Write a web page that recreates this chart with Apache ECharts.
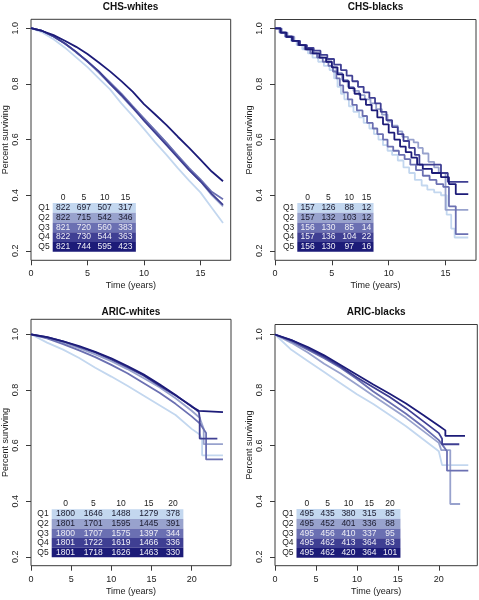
<!DOCTYPE html>
<html><head><meta charset="utf-8">
<script src="https://cdn.jsdelivr.net/npm/echarts@6/dist/echarts.min.js"></script>
<style>html,body{margin:0;padding:0;background:#fff}#c{width:479px;height:600px}</style>
</head><body><div id="c"></div>
<script>
// ---------------- data ----------------
const quintiles = ['Q1','Q2','Q3','Q4','Q5'];
const panelTitles = ['CHS-whites','CHS-blacks','ARIC-whites','ARIC-blacks'];
const chsTicks = [0,5,10,15];
const aricTicks = [0,5,10,15,20];
const yTicks = [0.2,0.4,0.6,0.8,1.0];

// CHS-whites (yearly)
const chsW_t  = [0,1,2,3,4,5,6,7,8,9,10,11,12,13,14,15,16,17];
const chsW_Q1 = [1,0.985,0.96,0.93,0.895,0.86,0.82,0.78,0.73,0.685,0.638,0.59,0.545,0.497,0.452,0.41,0.355,0.30];
const chsW_Q2 = [1,0.99,0.97,0.945,0.915,0.88,0.84,0.80,0.757,0.713,0.672,0.632,0.588,0.54,0.492,0.45,0.40,0.36];
const chsW_Q3 = [1,0.99,0.97,0.945,0.913,0.882,0.845,0.805,0.765,0.72,0.676,0.632,0.588,0.542,0.497,0.457,0.412,0.385];
const chsW_Q4 = [1,0.99,0.97,0.945,0.915,0.88,0.845,0.80,0.76,0.715,0.668,0.624,0.58,0.535,0.49,0.45,0.405,0.365];
const chsW_Q5 = [1,0.99,0.975,0.955,0.933,0.907,0.877,0.845,0.81,0.772,0.727,0.69,0.652,0.61,0.57,0.528,0.485,0.45];

// CHS-blacks (Kaplan-Meier steps)
const chsB_Q1_t = [0,0.5,0.9,1.4,1.9,2.4,2.9,3.3,3.8,4.3,4.8,5.2,5.5,5.8,6.1,6.5,6.9,7.4,7.8,8.3,8.7,9.1,9.5,9.9,10.3,10.8,11.3,11.8,12.3,12.9,13.4,14.0,14.6,15.1,15.5,15.8,17];
const chsB_Q1_s = [1,0.985,0.97,0.955,0.94,0.925,0.91,0.895,0.88,0.865,0.85,0.82,0.79,0.765,0.745,0.72,0.70,0.68,0.66,0.64,0.62,0.60,0.58,0.56,0.545,0.525,0.50,0.48,0.455,0.435,0.42,0.41,0.40,0.33,0.28,0.248,0.248];
const chsB_Q2_t = [0,0.6,1.1,1.7,2.2,2.8,3.4,4.0,4.5,5.0,5.4,5.9,6.4,6.9,7.4,7.9,8.4,8.9,9.4,9.9,10.3,10.8,11.2,11.7,12.2,12.6,13.0,13.5,14.0,14.4,15.0,17];
const chsB_Q2_s = [1,0.985,0.97,0.955,0.94,0.925,0.91,0.895,0.88,0.86,0.84,0.815,0.79,0.775,0.76,0.745,0.73,0.71,0.69,0.665,0.65,0.63,0.61,0.60,0.59,0.57,0.55,0.52,0.50,0.48,0.347,0.347];
const chsB_Q3_t = [0,0.4,0.9,1.5,2.0,2.6,3.1,3.7,4.2,4.7,5.1,5.4,5.7,6.0,6.4,6.8,7.2,7.7,8.1,8.6,9.0,9.5,9.9,10.4,10.9,11.4,11.9,12.4,13.0,13.6,14.2,14.8,15.3,15.9,17];
const chsB_Q3_s = [1,0.985,0.97,0.955,0.94,0.925,0.91,0.895,0.88,0.865,0.845,0.82,0.795,0.77,0.745,0.725,0.705,0.685,0.66,0.64,0.62,0.60,0.575,0.56,0.545,0.53,0.51,0.49,0.47,0.455,0.44,0.43,0.36,0.26,0.26];
const chsB_Q4_t = [0,0.5,1.0,1.6,2.2,2.8,3.4,4.0,4.6,5.2,5.8,6.3,6.8,7.3,7.8,8.3,8.8,9.3,9.8,10.3,10.8,11.3,11.8,12.3,12.7,14.6,15.2,17];
const chsB_Q4_s = [1,0.985,0.97,0.955,0.94,0.93,0.92,0.905,0.89,0.87,0.85,0.83,0.81,0.79,0.77,0.75,0.73,0.70,0.67,0.645,0.62,0.595,0.57,0.545,0.51,0.48,0.448,0.448];
const chsB_Q5_t = [0,0.5,1.0,1.5,2.1,2.7,3.3,3.9,4.5,5.0,5.5,6.0,6.5,7.0,7.5,8.0,8.5,9.0,9.5,10.0,10.5,11.0,11.5,12.0,12.5,13.0,13.8,14.6,15.3,15.9,17];
const chsB_Q5_s = [1,0.985,0.97,0.955,0.94,0.925,0.91,0.895,0.88,0.86,0.835,0.81,0.785,0.765,0.745,0.725,0.705,0.68,0.655,0.625,0.60,0.575,0.555,0.535,0.51,0.495,0.48,0.465,0.44,0.404,0.404];

// ARIC-whites
const aricW_Q1_t = [0,2,4,6,8,10,12,14,16,18,20,21,21.3,21.3,23.9];
const aricW_Q1_s = [1,0.97,0.945,0.915,0.88,0.848,0.815,0.78,0.745,0.71,0.66,0.64,0.62,0.565,0.565];
const aricW_Q2_t = [0,2,4,6,8,10,12,14,16,18,20,21,21.5,21.5,23.9];
const aricW_Q2_s = [1,0.987,0.97,0.95,0.928,0.903,0.875,0.843,0.81,0.77,0.725,0.70,0.66,0.605,0.605];
const aricW_Q3_t = [0,2,4,6,8,10,12,14,16,18,20,21,21.8,21.8,23.9];
const aricW_Q3_s = [1,0.985,0.965,0.942,0.918,0.89,0.86,0.825,0.79,0.75,0.705,0.68,0.645,0.55,0.55];
const aricW_Q4_t = [0,2,4,6,8,10,12,14,16,18,20,20.9,21,21,23.2];
const aricW_Q4_s = [1,0.99,0.975,0.955,0.935,0.91,0.882,0.852,0.815,0.78,0.742,0.72,0.70,0.625,0.625];
const aricW_Q5_t = [0,2,4,6,8,10,12,14,16,18,20,20.9,20.9,23.9];
const aricW_Q5_s = [1,0.99,0.975,0.958,0.937,0.914,0.886,0.856,0.82,0.782,0.74,0.725,0.72,0.72];

// ARIC-blacks
const aricB_Q1_t = [0,2,4,6,8,10,12,14,16,18,20,20.4,23.6];
const aricB_Q1_s = [1,0.945,0.905,0.865,0.825,0.785,0.75,0.71,0.67,0.625,0.58,0.53,0.53];
const aricB_Q2_t = [0,2,4,6,8,10,12,14,16,18,20,20.3,21.4,21.4,22.6];
const aricB_Q2_s = [1,0.97,0.935,0.895,0.86,0.82,0.78,0.74,0.70,0.655,0.61,0.584,0.584,0.39,0.39];
const aricB_Q3_t = [0,2,4,6,8,10,12,14,16,18,20,20.5,21,21,23.6];
const aricB_Q3_s = [1,0.975,0.945,0.915,0.88,0.84,0.795,0.755,0.715,0.67,0.62,0.60,0.58,0.51,0.51];
const aricB_Q4_t = [0,2,4,6,8,10,12,14,16,18,20,20.4,20.4,22.5];
const aricB_Q4_s = [1,0.98,0.95,0.92,0.885,0.845,0.81,0.775,0.735,0.69,0.645,0.625,0.605,0.605];
const aricB_Q5_t = [0,2,4,6,8,10,12,14,16,18,20,20.8,20.8,23.2];
const aricB_Q5_s = [1,0.98,0.955,0.925,0.89,0.855,0.82,0.787,0.752,0.712,0.672,0.655,0.635,0.635];

// numbers at risk
const chsW_risk = [[822,697,507,317],[822,715,542,346],[821,720,560,383],[822,730,544,363],[821,744,595,423]];
const chsB_risk = [[157,126,88,12],[157,132,103,12],[156,130,85,14],[157,136,104,22],[156,130,97,16]];
const aricW_risk = [[1800,1646,1488,1279,378],[1801,1701,1595,1445,391],[1800,1707,1575,1397,344],[1801,1722,1619,1466,336],[1801,1718,1626,1463,330]];
const aricB_risk = [[495,435,380,315,85],[495,452,401,336,88],[495,456,410,337,95],[495,462,413,364,83],[495,462,420,364,101]];

// ---------------- styling / layout ----------------
const COLORS = ['#c3d7ef','#98a2cd','#6b70b2','#3f3f93','#1c1b78'];
const TEXTC  = ['#1a1a2e','#1a1a2e','#eeeef6','#eeeef6','#eeeef6'];
const FONT = 'Liberation Sans, Arial, sans-serif';
const BOX = '#3a3a3a';

const panels = [
  {title:panelTitles[0], titleY:1.8, grid:{left:30.3,top:19.3,width:200.4,height:241}, x:[0,17.68], y:[0.166,1.032], xt:chsTicks,
   curves:[[chsW_t,chsW_Q1],[chsW_t,chsW_Q2],[chsW_t,chsW_Q3],[chsW_t,chsW_Q4],[chsW_t,chsW_Q5]], step:false,
   risk:chsW_risk, tab:{left:52.7, top:203, rowH:9.75}},
  {title:panelTitles[1], titleY:1.8, grid:{left:275,top:19.5,width:201,height:240.8}, x:[0,17.68], y:[0.166,1.032], xt:chsTicks,
   curves:[[chsB_Q1_t,chsB_Q1_s],[chsB_Q2_t,chsB_Q2_s],[chsB_Q3_t,chsB_Q3_s],[chsB_Q4_t,chsB_Q4_s],[chsB_Q5_t,chsB_Q5_s]], step:true,
   risk:chsB_risk, tab:{left:297.3, top:203, rowH:9.75}},
  {title:panelTitles[2], titleY:307.2, grid:{left:30.7,top:319.3,width:200.3,height:246.4}, x:[0,24.9], y:[0.168,1.054], xt:aricTicks,
   curves:[[aricW_Q1_t,aricW_Q1_s],[aricW_Q2_t,aricW_Q2_s],[aricW_Q3_t,aricW_Q3_s],[aricW_Q4_t,aricW_Q4_s],[aricW_Q5_t,aricW_Q5_s]], step:false,
   risk:aricW_risk, tab:{left:51.7, top:509.3, rowH:9.6}},
  {title:panelTitles[3], titleY:307.2, grid:{left:275,top:324.5,width:202.3,height:241.2}, x:[0,24.7], y:[0.168,1.036], xt:aricTicks,
   curves:[[aricB_Q1_t,aricB_Q1_s],[aricB_Q2_t,aricB_Q2_s],[aricB_Q3_t,aricB_Q3_s],[aricB_Q4_t,aricB_Q4_s],[aricB_Q5_t,aricB_Q5_s]], step:false,
   risk:aricB_risk, tab:{left:296.5, top:509, rowH:9.75}}
];

const PER_CHAR_W = 6.93;   // table column width per digit
const grids=[], xAxes=[], yAxes=[], series=[], titles=[];

panels.forEach((p,pi)=>{
  const gi = grids.length;
  grids.push({left:p.grid.left, top:p.grid.top, width:p.grid.width, height:p.grid.height, show:true, borderColor:BOX, borderWidth:1, backgroundColor:'transparent'});
  titles.push({text:p.title, left:p.grid.left + p.grid.width/2, textAlign:'center', top:p.titleY, padding:0,
    textStyle:{fontFamily:FONT, fontSize:10, fontWeight:'bold', color:'#111'}});
  xAxes.push({gridIndex:gi, type:'value', min:p.x[0], max:p.x[1], splitLine:{show:false},
    axisLine:{show:false}, axisTick:{show:true, length:5, customValues:p.xt, lineStyle:{color:BOX}},
    axisLabel:{customValues:p.xt, margin:9, fontFamily:FONT, fontSize:9, color:'#222'},
    name:'Time (years)', nameLocation:'middle', nameGap:21, nameTextStyle:{fontFamily:FONT, fontSize:9, color:'#222'}});
  yAxes.push({gridIndex:gi, type:'value', min:p.y[0], max:p.y[1], splitLine:{show:false},
    axisLine:{show:false}, axisTick:{show:true, length:5, customValues:yTicks, lineStyle:{color:BOX}},
    axisLabel:{customValues:yTicks, rotate:90, margin:11, fontFamily:FONT, fontSize:9, color:'#222', formatter:v=>v.toFixed(1)},
    name:'Percent surviving', nameLocation:'middle', nameGap:21, nameRotate:90, nameTextStyle:{fontFamily:FONT, fontSize:9, color:'#222'}});
  p.curves.forEach((c,qi)=>{
    series.push({type:'line', xAxisIndex:gi, yAxisIndex:gi, data:c[0].map((t,k)=>[t,c[1][k]]),
      step:p.step?'end':false, showSymbol:false, symbol:'none', silent:true, animation:false,
      lineStyle:{color:COLORS[qi], width:1.8}, z:2+qi});
  });

  // at-risk table: its own hidden grid, cells laid out through value axes
  const ncol = p.risk[0].length;
  const colW = [];
  for(let c=0;c<ncol;c++){
    let mx = 0;
    p.risk.forEach(r=>{mx=Math.max(mx,String(r[c]).length);});
    colW.push(mx*PER_CHAR_W);
  }
  const edges=[0]; colW.forEach(w=>edges.push(edges[edges.length-1]+w));
  const total = edges[ncol];
  const tg = grids.length;
  grids.push({left:p.tab.left, top:p.tab.top, width:total, height:p.tab.rowH*5, show:false});
  xAxes.push({gridIndex:tg, type:'value', min:0, max:total, show:false});
  yAxes.push({gridIndex:tg, type:'value', min:0, max:5, inverse:true, show:false});
  const headers = p.xt.slice(0,ncol);
  const cells=[];
  quintiles.forEach((q,r)=>cells.push({kind:'band', r:r}));
  headers.forEach((h,c)=>cells.push({kind:'text', x:(edges[c]+edges[c+1])/2, y:-0.55, t:String(h), col:'#222'}));
  quintiles.forEach((q,r)=>cells.push({kind:'label', x:0, y:r+0.5, t:q}));
  p.risk.forEach((row,r)=>row.forEach((v,c)=>cells.push({kind:'text', x:(edges[c]+edges[c+1])/2, y:r+0.5, t:String(v), col:TEXTC[r]})));
  series.push({type:'custom', xAxisIndex:tg, yAxisIndex:tg, clip:false, silent:true, animation:false, z:10,
    data:cells.map((d,i)=>[i]),
    renderItem:(params,api)=>{
      const d = cells[api.value(0)];
      if(d.kind==='band'){
        const a = api.coord([0,d.r]), b = api.coord([total,d.r+1]);
        return {type:'rect', shape:{x:a[0], y:a[1], width:b[0]-a[0], height:b[1]-a[1]}, style:{fill:COLORS[d.r]}};
      }
      const pt = api.coord([d.x,d.y]);
      if(d.kind==='label'){
        return {type:'text', x:pt[0]-3, y:pt[1], style:{text:d.t, fill:'#222', font:'8.5px '+FONT, textAlign:'right', textVerticalAlign:'middle'}};
      }
      return {type:'text', x:pt[0], y:pt[1], style:{text:d.t, fill:d.col, font:'8.5px '+FONT, textAlign:'center', textVerticalAlign:'middle'}};
    }});
});

const chart = echarts.init(document.getElementById('c'), null, {renderer:'canvas'});
chart.setOption({animation:false, backgroundColor:'#fff', title:titles, grid:grids, xAxis:xAxes, yAxis:yAxes, series:series});
</script></body></html>
